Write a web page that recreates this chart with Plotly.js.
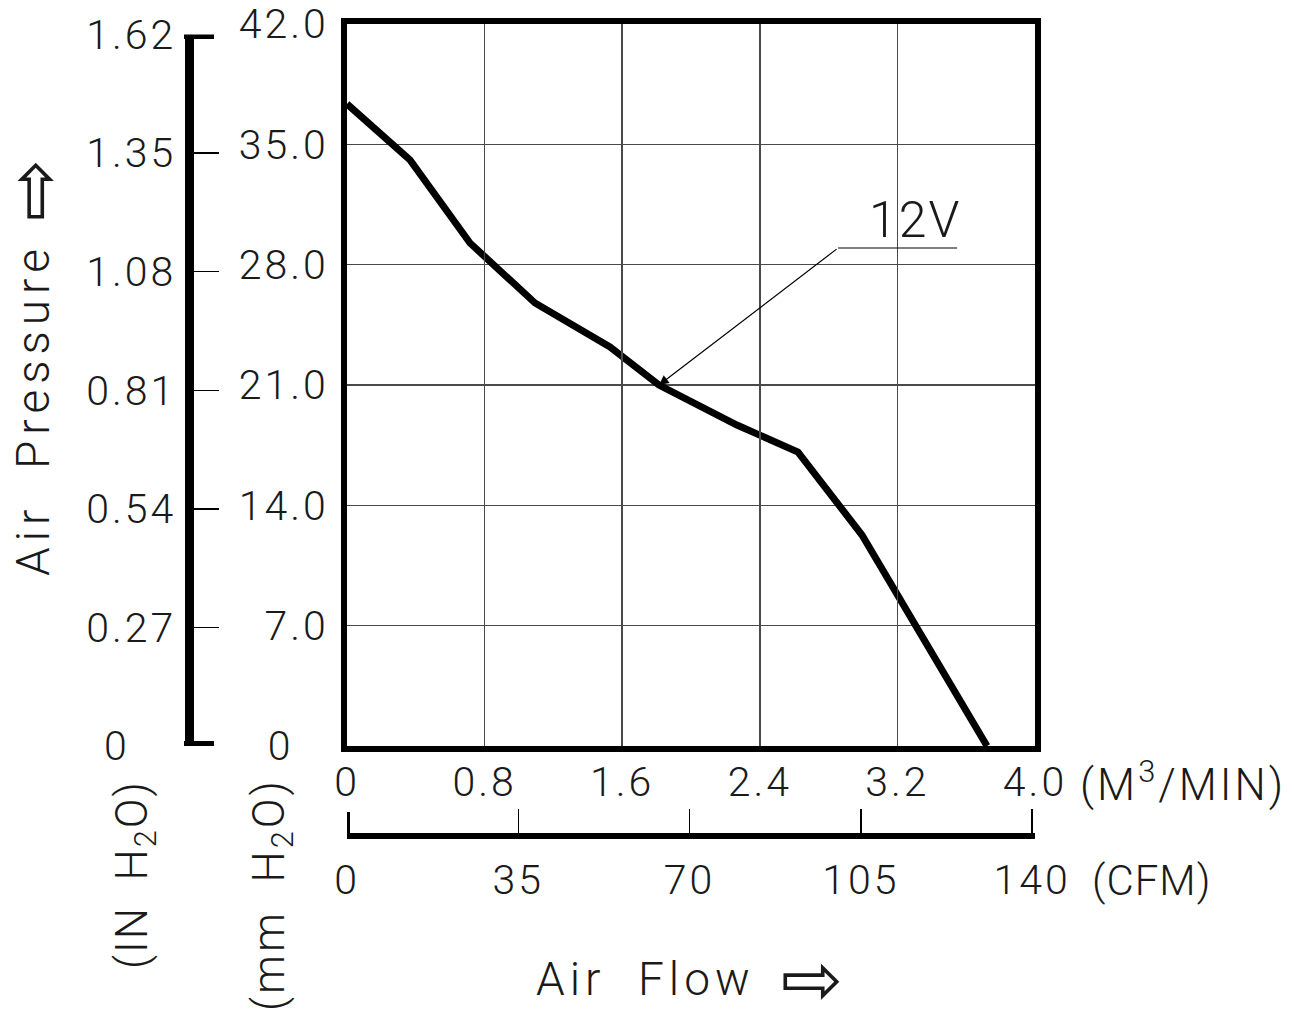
<!DOCTYPE html>
<html>
<head>
<meta charset="utf-8">
<script src="https://cdn.plot.ly/plotly-3.0.1.min.js"></script>
<style>html,body{margin:0;padding:0;background:#fff;}#chart{width:1294px;height:1013px;}</style>
</head>
<body>
<div id="chart"></div>
<script>
// ---- data ----
const flowM3 = [0, 0.366, 0.715, 1.093, 1.529, 1.814, 2.267, 2.622, 2.994, 3.721];
const pressureMM = [37.35, 34.09, 29.26, 25.77, 23.21, 21.0, 18.67, 17.10, 12.27, 0];
const seriesName = "12V";

const xTickVals = [0, 0.8, 1.6, 2.4, 3.2, 4.0];
const xTickText = ["0", "0.8", "1.6", "2.4", "3.2", "4.0"];
const cfmTickVals = [0, 35, 70, 105, 140];
const cfmTickText = ["0", "35", "70", "105", "140"];
const mmTickVals = [0, 7, 14, 21, 28, 35, 42];
const mmTickText = ["0\u2002\u2009", "7.0", "14.0", "21.0", "28.0", "35.0", "42.0"];
const inTickVals = [0, 0.27, 0.54, 0.81, 1.08, 1.35, 1.62];
const inTickText = ["0\u2002\u2009\u2009", "0.27", "0.54", "0.81", "1.08", "1.35", "1.62"];

// ---- page geometry helpers ----
const W = 1294, H = 1013;
const px = p => p / W;
const py = p => 1 - p / H;

const FONT = "Roboto, 'DejaVu Sans', sans-serif";
const TXT = "#1a1a1a";
const spaced = (s, ls) => '<span style="letter-spacing:' + ls + 'px">' + s + '</span>';
const ARROW = "\u21E8";

const traces = [
  {
    x: flowM3, y: pressureMM, name: seriesName,
    type: "scatter", mode: "lines",
    line: {color: "#000", width: 7, shape: "linear"},
    xaxis: "x", yaxis: "y", hoverinfo: "skip", showlegend: false
  },
  {x: [], y: [], xaxis: "x2", yaxis: "y", showlegend: false, hoverinfo: "skip"},
  {x: [], y: [], xaxis: "x", yaxis: "y2", showlegend: false, hoverinfo: "skip"}
];

const tickFont = {family: FONT, size: 41, color: TXT, weight: 300};
const LS = 3;

const layout = {
  width: W, height: H,
  margin: {l: 0, r: 0, t: 0, b: 0},
  paper_bgcolor: "#fff", plot_bgcolor: "rgba(0,0,0,0)",
  showlegend: false,
  font: {family: FONT, color: TXT},
  xaxis: {
    domain: [px(347), px(1035)], range: [0, 4.0], anchor: "y",
    tickvals: xTickVals, ticktext: xTickText.map(t => spaced(t, LS)),
    showgrid: true, gridcolor: "#4a4a4a", gridwidth: 1.5,
    showline: true, linecolor: "#000", linewidth: 6, mirror: true,
    ticks: "", ticklabelstandoff: -5,
    tickfont: tickFont, zeroline: false, fixedrange: true
  },
  yaxis: {
    domain: [py(746), py(24)], range: [0, 42], anchor: "x",
    tickvals: mmTickVals, ticktext: mmTickText.map(t => spaced(t, LS)),
    showgrid: true, gridcolor: "#4a4a4a", gridwidth: 1.5,
    showline: true, linecolor: "#000", linewidth: 6, mirror: true,
    ticks: "outside", ticklen: 4, tickcolor: "rgba(0,0,0,0)",
    tickfont: tickFont, zeroline: false, fixedrange: true
  },
  xaxis2: {
    overlaying: "x", anchor: "free", position: py(836), side: "bottom",
    range: [0, 140.6],
    tickvals: cfmTickVals, ticktext: cfmTickText.map(t => spaced(t, LS)),
    showgrid: false, zeroline: false,
    showline: true, linecolor: "#000", linewidth: 6,
    ticks: "inside", ticklen: 24, tickwidth: 1.5, tickcolor: "#000",
    ticklabelstandoff: 6,
    tickfont: tickFont, fixedrange: true
  },
  yaxis2: {
    domain: [py(746), py(34.5)], range: [0, 1.62],
    anchor: "free", position: px(188.5), side: "left",
    tickvals: inTickVals, ticktext: inTickText.map(t => spaced(t, LS)),
    showgrid: false, zeroline: false,
    showline: true, linecolor: "#000", linewidth: 9,
    ticks: "inside", ticklen: 25, tickwidth: 1.5, tickcolor: "#000",
    ticklabelstandoff: 0,
    tickfont: tickFont, fixedrange: true
  },
  shapes: [
    // IN H2O bracket caps
    {type: "line", xref: "paper", yref: "y2", x0: px(184), x1: px(214), y0: 1.62, y1: 1.62,
     line: {color: "#000", width: 9}},
    {type: "line", xref: "paper", yref: "y2", x0: px(184), x1: px(214), y0: 0, y1: 0,
     line: {color: "#000", width: 10}},
    // CFM bracket left cap
    {type: "line", xref: "x2", yref: "paper", x0: 0, x1: 0, y0: py(839), y1: py(812),
     line: {color: "#000", width: 6}},
    // 12V leader line
    {type: "line", xref: "x", yref: "y", x0: 2.855, x1: 3.547, y0: 28.97, y1: 28.97,
     line: {color: "#000", width: 1.2}}
  ],
  annotations: [
    {xref: "x", yref: "y", x: 1.814, y: 21.0, axref: "x", ayref: "y", ax: 2.855, ay: 28.97,
     text: "", showarrow: true, arrowhead: 2, arrowsize: 1.6, arrowwidth: 1.2, arrowcolor: "#000"},
    {xref: "x", yref: "y", x: 3.30, y: 30.6, text: spaced(seriesName, 2), showarrow: false,
     xanchor: "center", yanchor: "middle", font: {family: FONT, size: 50, color: TXT, weight: 300}},
    {xref: "paper", yref: "paper", x: px(1078), y: py(782), xanchor: "left", yanchor: "middle",
     text: spaced("(M<sup>3</sup>/MIN)", 3), showarrow: false, font: {family: FONT, size: 44, color: TXT, weight: 300}},
    {xref: "paper", yref: "paper", x: px(1090), y: py(880), xanchor: "left", yanchor: "middle",
     text: spaced("(CFM)", 1), showarrow: false, font: {family: FONT, size: 42, color: TXT, weight: 300}},
    // x title + arrow
    {xref: "paper", yref: "paper", x: px(645), y: py(979), xanchor: "center", yanchor: "middle",
     text: spaced("Air  Flow", 5), showarrow: false,
     font: {family: FONT, size: 46, color: TXT, weight: 300}},
    {xref: "paper", yref: "paper", x: px(812), y: py(979), xanchor: "center", yanchor: "middle",
     text: ARROW, showarrow: false, width: 96, height: 96,
     font: {family: "DejaVu Sans", size: 74, color: TXT}},
    // y title + arrow
    {xref: "paper", yref: "paper", x: px(33), y: py(410), xanchor: "center", yanchor: "middle",
     textangle: -90, text: spaced("Air  Pressure", 6), showarrow: false,
     font: {family: FONT, size: 46, color: TXT, weight: 300}},
    {xref: "paper", yref: "paper", x: px(33), y: py(190), xanchor: "center", yanchor: "middle",
     textangle: -90, text: ARROW, showarrow: false, width: 96, height: 96,
     font: {family: "DejaVu Sans", size: 74, color: TXT}},
    {xref: "paper", yref: "paper", x: px(135), y: py(875), xanchor: "center", yanchor: "middle",
     textangle: -90, text: spaced("(IN  H<sub>2</sub>O)", 2), showarrow: false,
     font: {family: FONT, size: 44, color: TXT, weight: 300}},
    {xref: "paper", yref: "paper", x: px(272), y: py(895), xanchor: "center", yanchor: "middle",
     textangle: -90, text: spaced("(mm  H<sub>2</sub>O)", 3), showarrow: false,
     font: {family: FONT, size: 44, color: TXT, weight: 300}}
  ]
};

Plotly.newPlot("chart", traces, layout, {staticPlot: true, displayModeBar: false});
</script>
</body>
</html>
